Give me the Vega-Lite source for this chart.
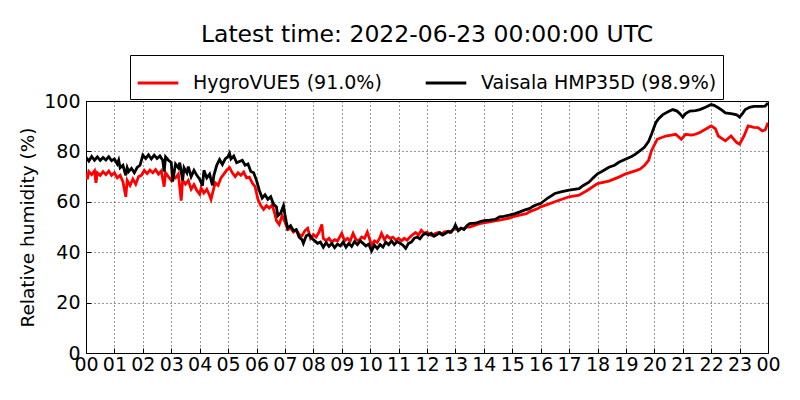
{
  "$schema": "https://vega.github.io/schema/vega-lite/v6.json",
  "width": 682,
  "height": 252,
  "autosize": {"type": "none"},
  "padding": {"left": 86, "top": 101, "right": 32, "bottom": 47},
  "background": "white",
  "title": {
    "text": "Latest time: 2022-06-23 00:00:00 UTC",
    "font": "DejaVu Sans",
    "fontSize": 23.5,
    "fontWeight": "normal",
    "color": "black",
    "anchor": "middle",
    "baseline": "alphabetic",
    "offset": -11
  },
  "config": {
    "view": {"stroke": "black", "strokeWidth": 1},
    "axis": {
      "labelFont": "DejaVu Sans",
      "labelFontSize": 19,
      "labelColor": "black",
      "titleFont": "DejaVu Sans",
      "titleFontSize": 18.5,
      "titleFontWeight": "normal",
      "titleColor": "black",
      "domain": false,
      "grid": true,
      "gridColor": "black",
      "gridOpacity": 0.8,
      "gridDash": [1, 3],
      "tickColor": "black",
      "tickSize": -5
    }
  },
  "datasets": {
    "rh": [
      {"t": 0.0, "rh": 71.6, "sensor": "HygroVUE5 (91.0%)"},
      {"t": 0.05, "rh": 69.0, "sensor": "HygroVUE5 (91.0%)"},
      {"t": 0.1, "rh": 72.0, "sensor": "HygroVUE5 (91.0%)"},
      {"t": 0.2, "rh": 70.8, "sensor": "HygroVUE5 (91.0%)"},
      {"t": 0.3, "rh": 72.3, "sensor": "HygroVUE5 (91.0%)"},
      {"t": 0.35, "rh": 67.5, "sensor": "HygroVUE5 (91.0%)"},
      {"t": 0.4, "rh": 71.5, "sensor": "HygroVUE5 (91.0%)"},
      {"t": 0.5, "rh": 70.5, "sensor": "HygroVUE5 (91.0%)"},
      {"t": 0.6, "rh": 72.0, "sensor": "HygroVUE5 (91.0%)"},
      {"t": 0.7, "rh": 70.8, "sensor": "HygroVUE5 (91.0%)"},
      {"t": 0.8, "rh": 72.2, "sensor": "HygroVUE5 (91.0%)"},
      {"t": 0.9, "rh": 70.5, "sensor": "HygroVUE5 (91.0%)"},
      {"t": 1.0, "rh": 71.5, "sensor": "HygroVUE5 (91.0%)"},
      {"t": 1.1, "rh": 69.5, "sensor": "HygroVUE5 (91.0%)"},
      {"t": 1.2, "rh": 70.5, "sensor": "HygroVUE5 (91.0%)"},
      {"t": 1.3, "rh": 68.0, "sensor": "HygroVUE5 (91.0%)"},
      {"t": 1.4, "rh": 62.0, "sensor": "HygroVUE5 (91.0%)"},
      {"t": 1.45, "rh": 68.5, "sensor": "HygroVUE5 (91.0%)"},
      {"t": 1.55, "rh": 66.5, "sensor": "HygroVUE5 (91.0%)"},
      {"t": 1.65, "rh": 69.0, "sensor": "HygroVUE5 (91.0%)"},
      {"t": 1.75, "rh": 67.0, "sensor": "HygroVUE5 (91.0%)"},
      {"t": 1.85, "rh": 70.0, "sensor": "HygroVUE5 (91.0%)"},
      {"t": 1.95, "rh": 70.5, "sensor": "HygroVUE5 (91.0%)"},
      {"t": 2.05, "rh": 72.5, "sensor": "HygroVUE5 (91.0%)"},
      {"t": 2.15, "rh": 71.2, "sensor": "HygroVUE5 (91.0%)"},
      {"t": 2.25, "rh": 72.6, "sensor": "HygroVUE5 (91.0%)"},
      {"t": 2.35, "rh": 71.5, "sensor": "HygroVUE5 (91.0%)"},
      {"t": 2.45, "rh": 72.8, "sensor": "HygroVUE5 (91.0%)"},
      {"t": 2.55, "rh": 71.0, "sensor": "HygroVUE5 (91.0%)"},
      {"t": 2.65, "rh": 72.3, "sensor": "HygroVUE5 (91.0%)"},
      {"t": 2.75, "rh": 66.0, "sensor": "HygroVUE5 (91.0%)"},
      {"t": 2.8, "rh": 71.5, "sensor": "HygroVUE5 (91.0%)"},
      {"t": 2.9, "rh": 70.0, "sensor": "HygroVUE5 (91.0%)"},
      {"t": 3.0, "rh": 68.5, "sensor": "HygroVUE5 (91.0%)"},
      {"t": 3.05, "rh": 70.5, "sensor": "HygroVUE5 (91.0%)"},
      {"t": 3.15, "rh": 69.5, "sensor": "HygroVUE5 (91.0%)"},
      {"t": 3.25, "rh": 71.0, "sensor": "HygroVUE5 (91.0%)"},
      {"t": 3.35, "rh": 60.5, "sensor": "HygroVUE5 (91.0%)"},
      {"t": 3.4, "rh": 68.5, "sensor": "HygroVUE5 (91.0%)"},
      {"t": 3.5, "rh": 67.0, "sensor": "HygroVUE5 (91.0%)"},
      {"t": 3.6, "rh": 68.5, "sensor": "HygroVUE5 (91.0%)"},
      {"t": 3.7, "rh": 65.0, "sensor": "HygroVUE5 (91.0%)"},
      {"t": 3.8, "rh": 66.8, "sensor": "HygroVUE5 (91.0%)"},
      {"t": 3.9, "rh": 64.5, "sensor": "HygroVUE5 (91.0%)"},
      {"t": 4.0, "rh": 63.0, "sensor": "HygroVUE5 (91.0%)"},
      {"t": 4.05, "rh": 65.5, "sensor": "HygroVUE5 (91.0%)"},
      {"t": 4.15, "rh": 63.5, "sensor": "HygroVUE5 (91.0%)"},
      {"t": 4.25, "rh": 65.0, "sensor": "HygroVUE5 (91.0%)"},
      {"t": 4.35, "rh": 62.5, "sensor": "HygroVUE5 (91.0%)"},
      {"t": 4.4, "rh": 61.0, "sensor": "HygroVUE5 (91.0%)"},
      {"t": 4.5, "rh": 65.5, "sensor": "HygroVUE5 (91.0%)"},
      {"t": 4.55, "rh": 67.5, "sensor": "HygroVUE5 (91.0%)"},
      {"t": 4.65, "rh": 66.5, "sensor": "HygroVUE5 (91.0%)"},
      {"t": 4.75, "rh": 69.5, "sensor": "HygroVUE5 (91.0%)"},
      {"t": 4.85, "rh": 71.0, "sensor": "HygroVUE5 (91.0%)"},
      {"t": 4.95, "rh": 72.5, "sensor": "HygroVUE5 (91.0%)"},
      {"t": 5.05, "rh": 73.6, "sensor": "HygroVUE5 (91.0%)"},
      {"t": 5.15, "rh": 71.5, "sensor": "HygroVUE5 (91.0%)"},
      {"t": 5.25, "rh": 70.0, "sensor": "HygroVUE5 (91.0%)"},
      {"t": 5.35, "rh": 71.5, "sensor": "HygroVUE5 (91.0%)"},
      {"t": 5.45, "rh": 70.5, "sensor": "HygroVUE5 (91.0%)"},
      {"t": 5.55, "rh": 71.8, "sensor": "HygroVUE5 (91.0%)"},
      {"t": 5.65, "rh": 69.5, "sensor": "HygroVUE5 (91.0%)"},
      {"t": 5.75, "rh": 69.8, "sensor": "HygroVUE5 (91.0%)"},
      {"t": 5.85, "rh": 67.5, "sensor": "HygroVUE5 (91.0%)"},
      {"t": 5.95, "rh": 66.0, "sensor": "HygroVUE5 (91.0%)"},
      {"t": 6.05, "rh": 61.0, "sensor": "HygroVUE5 (91.0%)"},
      {"t": 6.15, "rh": 58.5, "sensor": "HygroVUE5 (91.0%)"},
      {"t": 6.25, "rh": 57.0, "sensor": "HygroVUE5 (91.0%)"},
      {"t": 6.35, "rh": 58.5, "sensor": "HygroVUE5 (91.0%)"},
      {"t": 6.45, "rh": 57.5, "sensor": "HygroVUE5 (91.0%)"},
      {"t": 6.55, "rh": 58.8, "sensor": "HygroVUE5 (91.0%)"},
      {"t": 6.65, "rh": 55.0, "sensor": "HygroVUE5 (91.0%)"},
      {"t": 6.7, "rh": 52.5, "sensor": "HygroVUE5 (91.0%)"},
      {"t": 6.8, "rh": 51.0, "sensor": "HygroVUE5 (91.0%)"},
      {"t": 6.9, "rh": 54.5, "sensor": "HygroVUE5 (91.0%)"},
      {"t": 7.0, "rh": 52.0, "sensor": "HygroVUE5 (91.0%)"},
      {"t": 7.1, "rh": 49.0, "sensor": "HygroVUE5 (91.0%)"},
      {"t": 7.2, "rh": 49.5, "sensor": "HygroVUE5 (91.0%)"},
      {"t": 7.3, "rh": 48.0, "sensor": "HygroVUE5 (91.0%)"},
      {"t": 7.4, "rh": 48.8, "sensor": "HygroVUE5 (91.0%)"},
      {"t": 7.5, "rh": 47.0, "sensor": "HygroVUE5 (91.0%)"},
      {"t": 7.6, "rh": 46.5, "sensor": "HygroVUE5 (91.0%)"},
      {"t": 7.7, "rh": 48.5, "sensor": "HygroVUE5 (91.0%)"},
      {"t": 7.8, "rh": 49.5, "sensor": "HygroVUE5 (91.0%)"},
      {"t": 7.9, "rh": 45.5, "sensor": "HygroVUE5 (91.0%)"},
      {"t": 8.0, "rh": 47.0, "sensor": "HygroVUE5 (91.0%)"},
      {"t": 8.1, "rh": 46.0, "sensor": "HygroVUE5 (91.0%)"},
      {"t": 8.2, "rh": 48.0, "sensor": "HygroVUE5 (91.0%)"},
      {"t": 8.3, "rh": 51.0, "sensor": "HygroVUE5 (91.0%)"},
      {"t": 8.35, "rh": 45.5, "sensor": "HygroVUE5 (91.0%)"},
      {"t": 8.45, "rh": 44.5, "sensor": "HygroVUE5 (91.0%)"},
      {"t": 8.55, "rh": 45.5, "sensor": "HygroVUE5 (91.0%)"},
      {"t": 8.65, "rh": 44.0, "sensor": "HygroVUE5 (91.0%)"},
      {"t": 8.75, "rh": 45.0, "sensor": "HygroVUE5 (91.0%)"},
      {"t": 8.85, "rh": 44.5, "sensor": "HygroVUE5 (91.0%)"},
      {"t": 8.95, "rh": 46.5, "sensor": "HygroVUE5 (91.0%)"},
      {"t": 9.0, "rh": 47.5, "sensor": "HygroVUE5 (91.0%)"},
      {"t": 9.1, "rh": 44.5, "sensor": "HygroVUE5 (91.0%)"},
      {"t": 9.2, "rh": 45.5, "sensor": "HygroVUE5 (91.0%)"},
      {"t": 9.3, "rh": 44.5, "sensor": "HygroVUE5 (91.0%)"},
      {"t": 9.4, "rh": 47.5, "sensor": "HygroVUE5 (91.0%)"},
      {"t": 9.5, "rh": 45.0, "sensor": "HygroVUE5 (91.0%)"},
      {"t": 9.6, "rh": 44.5, "sensor": "HygroVUE5 (91.0%)"},
      {"t": 9.7, "rh": 46.0, "sensor": "HygroVUE5 (91.0%)"},
      {"t": 9.8, "rh": 45.5, "sensor": "HygroVUE5 (91.0%)"},
      {"t": 9.9, "rh": 48.0, "sensor": "HygroVUE5 (91.0%)"},
      {"t": 10.0, "rh": 44.5, "sensor": "HygroVUE5 (91.0%)"},
      {"t": 10.05, "rh": 42.8, "sensor": "HygroVUE5 (91.0%)"},
      {"t": 10.15, "rh": 44.5, "sensor": "HygroVUE5 (91.0%)"},
      {"t": 10.25, "rh": 43.8, "sensor": "HygroVUE5 (91.0%)"},
      {"t": 10.35, "rh": 46.0, "sensor": "HygroVUE5 (91.0%)"},
      {"t": 10.4, "rh": 47.5, "sensor": "HygroVUE5 (91.0%)"},
      {"t": 10.5, "rh": 45.0, "sensor": "HygroVUE5 (91.0%)"},
      {"t": 10.6, "rh": 46.5, "sensor": "HygroVUE5 (91.0%)"},
      {"t": 10.7, "rh": 45.5, "sensor": "HygroVUE5 (91.0%)"},
      {"t": 10.8, "rh": 46.0, "sensor": "HygroVUE5 (91.0%)"},
      {"t": 10.9, "rh": 44.8, "sensor": "HygroVUE5 (91.0%)"},
      {"t": 11.0, "rh": 45.5, "sensor": "HygroVUE5 (91.0%)"},
      {"t": 11.1, "rh": 44.5, "sensor": "HygroVUE5 (91.0%)"},
      {"t": 11.2, "rh": 45.5, "sensor": "HygroVUE5 (91.0%)"},
      {"t": 11.3, "rh": 44.8, "sensor": "HygroVUE5 (91.0%)"},
      {"t": 11.4, "rh": 46.0, "sensor": "HygroVUE5 (91.0%)"},
      {"t": 11.5, "rh": 47.0, "sensor": "HygroVUE5 (91.0%)"},
      {"t": 11.6, "rh": 47.8, "sensor": "HygroVUE5 (91.0%)"},
      {"t": 11.7, "rh": 46.8, "sensor": "HygroVUE5 (91.0%)"},
      {"t": 11.8, "rh": 48.7, "sensor": "HygroVUE5 (91.0%)"},
      {"t": 11.9, "rh": 47.5, "sensor": "HygroVUE5 (91.0%)"},
      {"t": 12.0, "rh": 48.0, "sensor": "HygroVUE5 (91.0%)"},
      {"t": 12.1, "rh": 47.0, "sensor": "HygroVUE5 (91.0%)"},
      {"t": 12.2, "rh": 46.5, "sensor": "HygroVUE5 (91.0%)"},
      {"t": 12.3, "rh": 47.5, "sensor": "HygroVUE5 (91.0%)"},
      {"t": 12.4, "rh": 47.8, "sensor": "HygroVUE5 (91.0%)"},
      {"t": 12.5, "rh": 47.0, "sensor": "HygroVUE5 (91.0%)"},
      {"t": 12.6, "rh": 48.0, "sensor": "HygroVUE5 (91.0%)"},
      {"t": 12.7, "rh": 48.2, "sensor": "HygroVUE5 (91.0%)"},
      {"t": 12.8, "rh": 47.8, "sensor": "HygroVUE5 (91.0%)"},
      {"t": 12.9, "rh": 48.8, "sensor": "HygroVUE5 (91.0%)"},
      {"t": 13.0, "rh": 49.5, "sensor": "HygroVUE5 (91.0%)"},
      {"t": 13.1, "rh": 48.8, "sensor": "HygroVUE5 (91.0%)"},
      {"t": 13.2, "rh": 49.5, "sensor": "HygroVUE5 (91.0%)"},
      {"t": 13.3, "rh": 49.3, "sensor": "HygroVUE5 (91.0%)"},
      {"t": 13.4, "rh": 50.0, "sensor": "HygroVUE5 (91.0%)"},
      {"t": 13.5, "rh": 50.0, "sensor": "HygroVUE5 (91.0%)"},
      {"t": 13.85, "rh": 51.3, "sensor": "HygroVUE5 (91.0%)"},
      {"t": 14.2, "rh": 52.0, "sensor": "HygroVUE5 (91.0%)"},
      {"t": 14.55, "rh": 52.7, "sensor": "HygroVUE5 (91.0%)"},
      {"t": 14.9, "rh": 53.5, "sensor": "HygroVUE5 (91.0%)"},
      {"t": 15.0, "rh": 54.0, "sensor": "HygroVUE5 (91.0%)"},
      {"t": 15.3, "rh": 54.8, "sensor": "HygroVUE5 (91.0%)"},
      {"t": 15.5, "rh": 55.3, "sensor": "HygroVUE5 (91.0%)"},
      {"t": 15.6, "rh": 56.0, "sensor": "HygroVUE5 (91.0%)"},
      {"t": 15.9, "rh": 57.3, "sensor": "HygroVUE5 (91.0%)"},
      {"t": 16.0, "rh": 58.0, "sensor": "HygroVUE5 (91.0%)"},
      {"t": 16.25, "rh": 59.0, "sensor": "HygroVUE5 (91.0%)"},
      {"t": 16.5, "rh": 60.0, "sensor": "HygroVUE5 (91.0%)"},
      {"t": 16.75, "rh": 61.0, "sensor": "HygroVUE5 (91.0%)"},
      {"t": 17.0, "rh": 62.0, "sensor": "HygroVUE5 (91.0%)"},
      {"t": 17.35, "rh": 62.6, "sensor": "HygroVUE5 (91.0%)"},
      {"t": 17.65, "rh": 64.6, "sensor": "HygroVUE5 (91.0%)"},
      {"t": 18.0, "rh": 67.2, "sensor": "HygroVUE5 (91.0%)"},
      {"t": 18.4, "rh": 68.2, "sensor": "HygroVUE5 (91.0%)"},
      {"t": 18.75, "rh": 69.8, "sensor": "HygroVUE5 (91.0%)"},
      {"t": 19.0, "rh": 71.1, "sensor": "HygroVUE5 (91.0%)"},
      {"t": 19.35, "rh": 72.4, "sensor": "HygroVUE5 (91.0%)"},
      {"t": 19.5, "rh": 73.0, "sensor": "HygroVUE5 (91.0%)"},
      {"t": 19.65, "rh": 74.4, "sensor": "HygroVUE5 (91.0%)"},
      {"t": 19.8, "rh": 76.5, "sensor": "HygroVUE5 (91.0%)"},
      {"t": 19.9, "rh": 80.3, "sensor": "HygroVUE5 (91.0%)"},
      {"t": 20.1, "rh": 84.8, "sensor": "HygroVUE5 (91.0%)"},
      {"t": 20.4, "rh": 86.1, "sensor": "HygroVUE5 (91.0%)"},
      {"t": 20.6, "rh": 86.5, "sensor": "HygroVUE5 (91.0%)"},
      {"t": 20.75, "rh": 86.8, "sensor": "HygroVUE5 (91.0%)"},
      {"t": 20.95, "rh": 84.8, "sensor": "HygroVUE5 (91.0%)"},
      {"t": 21.1, "rh": 86.8, "sensor": "HygroVUE5 (91.0%)"},
      {"t": 21.3, "rh": 86.5, "sensor": "HygroVUE5 (91.0%)"},
      {"t": 21.45, "rh": 86.8, "sensor": "HygroVUE5 (91.0%)"},
      {"t": 21.6, "rh": 87.5, "sensor": "HygroVUE5 (91.0%)"},
      {"t": 21.8, "rh": 88.8, "sensor": "HygroVUE5 (91.0%)"},
      {"t": 22.0, "rh": 90.1, "sensor": "HygroVUE5 (91.0%)"},
      {"t": 22.15, "rh": 89.0, "sensor": "HygroVUE5 (91.0%)"},
      {"t": 22.25, "rh": 86.1, "sensor": "HygroVUE5 (91.0%)"},
      {"t": 22.5, "rh": 84.2, "sensor": "HygroVUE5 (91.0%)"},
      {"t": 22.7, "rh": 86.1, "sensor": "HygroVUE5 (91.0%)"},
      {"t": 22.9, "rh": 83.5, "sensor": "HygroVUE5 (91.0%)"},
      {"t": 23.0, "rh": 82.9, "sensor": "HygroVUE5 (91.0%)"},
      {"t": 23.15, "rh": 86.0, "sensor": "HygroVUE5 (91.0%)"},
      {"t": 23.3, "rh": 90.1, "sensor": "HygroVUE5 (91.0%)"},
      {"t": 23.5, "rh": 89.5, "sensor": "HygroVUE5 (91.0%)"},
      {"t": 23.65, "rh": 89.4, "sensor": "HygroVUE5 (91.0%)"},
      {"t": 23.8, "rh": 88.1, "sensor": "HygroVUE5 (91.0%)"},
      {"t": 23.9, "rh": 88.5, "sensor": "HygroVUE5 (91.0%)"},
      {"t": 24.0, "rh": 91.4, "sensor": "HygroVUE5 (91.0%)"},
      {"t": 0.0, "rh": 77.6, "sensor": "Vaisala HMP35D (98.9%)"},
      {"t": 0.1, "rh": 76.2, "sensor": "Vaisala HMP35D (98.9%)"},
      {"t": 0.2, "rh": 78.0, "sensor": "Vaisala HMP35D (98.9%)"},
      {"t": 0.3, "rh": 76.5, "sensor": "Vaisala HMP35D (98.9%)"},
      {"t": 0.4, "rh": 77.8, "sensor": "Vaisala HMP35D (98.9%)"},
      {"t": 0.5, "rh": 76.4, "sensor": "Vaisala HMP35D (98.9%)"},
      {"t": 0.6, "rh": 77.6, "sensor": "Vaisala HMP35D (98.9%)"},
      {"t": 0.7, "rh": 76.6, "sensor": "Vaisala HMP35D (98.9%)"},
      {"t": 0.8, "rh": 77.9, "sensor": "Vaisala HMP35D (98.9%)"},
      {"t": 0.9, "rh": 76.3, "sensor": "Vaisala HMP35D (98.9%)"},
      {"t": 1.0, "rh": 77.0, "sensor": "Vaisala HMP35D (98.9%)"},
      {"t": 1.1, "rh": 75.0, "sensor": "Vaisala HMP35D (98.9%)"},
      {"t": 1.15, "rh": 76.5, "sensor": "Vaisala HMP35D (98.9%)"},
      {"t": 1.2, "rh": 73.5, "sensor": "Vaisala HMP35D (98.9%)"},
      {"t": 1.3, "rh": 74.5, "sensor": "Vaisala HMP35D (98.9%)"},
      {"t": 1.4, "rh": 70.5, "sensor": "Vaisala HMP35D (98.9%)"},
      {"t": 1.45, "rh": 73.5, "sensor": "Vaisala HMP35D (98.9%)"},
      {"t": 1.5, "rh": 72.0, "sensor": "Vaisala HMP35D (98.9%)"},
      {"t": 1.6, "rh": 73.3, "sensor": "Vaisala HMP35D (98.9%)"},
      {"t": 1.7, "rh": 71.5, "sensor": "Vaisala HMP35D (98.9%)"},
      {"t": 1.8, "rh": 73.6, "sensor": "Vaisala HMP35D (98.9%)"},
      {"t": 1.9, "rh": 74.5, "sensor": "Vaisala HMP35D (98.9%)"},
      {"t": 2.0, "rh": 78.5, "sensor": "Vaisala HMP35D (98.9%)"},
      {"t": 2.1, "rh": 77.2, "sensor": "Vaisala HMP35D (98.9%)"},
      {"t": 2.2, "rh": 78.6, "sensor": "Vaisala HMP35D (98.9%)"},
      {"t": 2.3, "rh": 77.0, "sensor": "Vaisala HMP35D (98.9%)"},
      {"t": 2.4, "rh": 78.5, "sensor": "Vaisala HMP35D (98.9%)"},
      {"t": 2.5, "rh": 77.2, "sensor": "Vaisala HMP35D (98.9%)"},
      {"t": 2.6, "rh": 78.2, "sensor": "Vaisala HMP35D (98.9%)"},
      {"t": 2.7, "rh": 76.5, "sensor": "Vaisala HMP35D (98.9%)"},
      {"t": 2.75, "rh": 72.0, "sensor": "Vaisala HMP35D (98.9%)"},
      {"t": 2.8, "rh": 77.8, "sensor": "Vaisala HMP35D (98.9%)"},
      {"t": 2.9, "rh": 76.5, "sensor": "Vaisala HMP35D (98.9%)"},
      {"t": 3.0, "rh": 75.6, "sensor": "Vaisala HMP35D (98.9%)"},
      {"t": 3.05, "rh": 68.0, "sensor": "Vaisala HMP35D (98.9%)"},
      {"t": 3.15, "rh": 75.0, "sensor": "Vaisala HMP35D (98.9%)"},
      {"t": 3.25, "rh": 73.5, "sensor": "Vaisala HMP35D (98.9%)"},
      {"t": 3.3, "rh": 75.5, "sensor": "Vaisala HMP35D (98.9%)"},
      {"t": 3.4, "rh": 68.5, "sensor": "Vaisala HMP35D (98.9%)"},
      {"t": 3.45, "rh": 73.5, "sensor": "Vaisala HMP35D (98.9%)"},
      {"t": 3.55, "rh": 71.5, "sensor": "Vaisala HMP35D (98.9%)"},
      {"t": 3.6, "rh": 74.0, "sensor": "Vaisala HMP35D (98.9%)"},
      {"t": 3.7, "rh": 70.0, "sensor": "Vaisala HMP35D (98.9%)"},
      {"t": 3.8, "rh": 72.5, "sensor": "Vaisala HMP35D (98.9%)"},
      {"t": 3.9, "rh": 70.5, "sensor": "Vaisala HMP35D (98.9%)"},
      {"t": 4.0, "rh": 69.0, "sensor": "Vaisala HMP35D (98.9%)"},
      {"t": 4.1, "rh": 66.4, "sensor": "Vaisala HMP35D (98.9%)"},
      {"t": 4.15, "rh": 72.5, "sensor": "Vaisala HMP35D (98.9%)"},
      {"t": 4.25, "rh": 69.5, "sensor": "Vaisala HMP35D (98.9%)"},
      {"t": 4.35, "rh": 71.0, "sensor": "Vaisala HMP35D (98.9%)"},
      {"t": 4.45, "rh": 66.5, "sensor": "Vaisala HMP35D (98.9%)"},
      {"t": 4.5, "rh": 70.5, "sensor": "Vaisala HMP35D (98.9%)"},
      {"t": 4.6, "rh": 74.5, "sensor": "Vaisala HMP35D (98.9%)"},
      {"t": 4.7, "rh": 76.8, "sensor": "Vaisala HMP35D (98.9%)"},
      {"t": 4.8, "rh": 74.8, "sensor": "Vaisala HMP35D (98.9%)"},
      {"t": 4.9, "rh": 77.0, "sensor": "Vaisala HMP35D (98.9%)"},
      {"t": 5.0, "rh": 78.0, "sensor": "Vaisala HMP35D (98.9%)"},
      {"t": 5.05, "rh": 79.2, "sensor": "Vaisala HMP35D (98.9%)"},
      {"t": 5.1, "rh": 77.0, "sensor": "Vaisala HMP35D (98.9%)"},
      {"t": 5.2, "rh": 78.2, "sensor": "Vaisala HMP35D (98.9%)"},
      {"t": 5.3, "rh": 75.5, "sensor": "Vaisala HMP35D (98.9%)"},
      {"t": 5.4, "rh": 76.0, "sensor": "Vaisala HMP35D (98.9%)"},
      {"t": 5.5, "rh": 76.5, "sensor": "Vaisala HMP35D (98.9%)"},
      {"t": 5.6, "rh": 74.5, "sensor": "Vaisala HMP35D (98.9%)"},
      {"t": 5.7, "rh": 75.0, "sensor": "Vaisala HMP35D (98.9%)"},
      {"t": 5.8, "rh": 72.0, "sensor": "Vaisala HMP35D (98.9%)"},
      {"t": 5.9, "rh": 71.5, "sensor": "Vaisala HMP35D (98.9%)"},
      {"t": 6.0, "rh": 68.5, "sensor": "Vaisala HMP35D (98.9%)"},
      {"t": 6.1, "rh": 64.5, "sensor": "Vaisala HMP35D (98.9%)"},
      {"t": 6.2, "rh": 61.5, "sensor": "Vaisala HMP35D (98.9%)"},
      {"t": 6.3, "rh": 62.8, "sensor": "Vaisala HMP35D (98.9%)"},
      {"t": 6.4, "rh": 61.0, "sensor": "Vaisala HMP35D (98.9%)"},
      {"t": 6.5, "rh": 62.0, "sensor": "Vaisala HMP35D (98.9%)"},
      {"t": 6.6, "rh": 59.0, "sensor": "Vaisala HMP35D (98.9%)"},
      {"t": 6.7, "rh": 58.0, "sensor": "Vaisala HMP35D (98.9%)"},
      {"t": 6.75, "rh": 54.5, "sensor": "Vaisala HMP35D (98.9%)"},
      {"t": 6.85, "rh": 55.5, "sensor": "Vaisala HMP35D (98.9%)"},
      {"t": 6.95, "rh": 58.5, "sensor": "Vaisala HMP35D (98.9%)"},
      {"t": 7.0, "rh": 55.0, "sensor": "Vaisala HMP35D (98.9%)"},
      {"t": 7.05, "rh": 52.0, "sensor": "Vaisala HMP35D (98.9%)"},
      {"t": 7.1, "rh": 49.5, "sensor": "Vaisala HMP35D (98.9%)"},
      {"t": 7.2, "rh": 50.5, "sensor": "Vaisala HMP35D (98.9%)"},
      {"t": 7.3, "rh": 48.5, "sensor": "Vaisala HMP35D (98.9%)"},
      {"t": 7.4, "rh": 49.0, "sensor": "Vaisala HMP35D (98.9%)"},
      {"t": 7.5, "rh": 46.0, "sensor": "Vaisala HMP35D (98.9%)"},
      {"t": 7.6, "rh": 45.0, "sensor": "Vaisala HMP35D (98.9%)"},
      {"t": 7.65, "rh": 43.5, "sensor": "Vaisala HMP35D (98.9%)"},
      {"t": 7.75, "rh": 46.5, "sensor": "Vaisala HMP35D (98.9%)"},
      {"t": 7.85, "rh": 47.0, "sensor": "Vaisala HMP35D (98.9%)"},
      {"t": 7.95, "rh": 45.5, "sensor": "Vaisala HMP35D (98.9%)"},
      {"t": 8.05, "rh": 44.5, "sensor": "Vaisala HMP35D (98.9%)"},
      {"t": 8.15, "rh": 43.5, "sensor": "Vaisala HMP35D (98.9%)"},
      {"t": 8.25, "rh": 44.0, "sensor": "Vaisala HMP35D (98.9%)"},
      {"t": 8.35, "rh": 42.0, "sensor": "Vaisala HMP35D (98.9%)"},
      {"t": 8.45, "rh": 43.8, "sensor": "Vaisala HMP35D (98.9%)"},
      {"t": 8.55, "rh": 42.3, "sensor": "Vaisala HMP35D (98.9%)"},
      {"t": 8.65, "rh": 43.5, "sensor": "Vaisala HMP35D (98.9%)"},
      {"t": 8.75, "rh": 41.8, "sensor": "Vaisala HMP35D (98.9%)"},
      {"t": 8.85, "rh": 43.2, "sensor": "Vaisala HMP35D (98.9%)"},
      {"t": 8.95, "rh": 42.5, "sensor": "Vaisala HMP35D (98.9%)"},
      {"t": 9.05, "rh": 44.0, "sensor": "Vaisala HMP35D (98.9%)"},
      {"t": 9.15, "rh": 42.0, "sensor": "Vaisala HMP35D (98.9%)"},
      {"t": 9.25, "rh": 43.5, "sensor": "Vaisala HMP35D (98.9%)"},
      {"t": 9.35, "rh": 42.3, "sensor": "Vaisala HMP35D (98.9%)"},
      {"t": 9.45, "rh": 44.2, "sensor": "Vaisala HMP35D (98.9%)"},
      {"t": 9.55, "rh": 43.0, "sensor": "Vaisala HMP35D (98.9%)"},
      {"t": 9.65, "rh": 44.5, "sensor": "Vaisala HMP35D (98.9%)"},
      {"t": 9.75, "rh": 43.5, "sensor": "Vaisala HMP35D (98.9%)"},
      {"t": 9.85, "rh": 42.5, "sensor": "Vaisala HMP35D (98.9%)"},
      {"t": 9.95, "rh": 43.2, "sensor": "Vaisala HMP35D (98.9%)"},
      {"t": 10.05, "rh": 40.5, "sensor": "Vaisala HMP35D (98.9%)"},
      {"t": 10.15, "rh": 42.8, "sensor": "Vaisala HMP35D (98.9%)"},
      {"t": 10.25, "rh": 41.5, "sensor": "Vaisala HMP35D (98.9%)"},
      {"t": 10.35, "rh": 43.0, "sensor": "Vaisala HMP35D (98.9%)"},
      {"t": 10.45, "rh": 42.0, "sensor": "Vaisala HMP35D (98.9%)"},
      {"t": 10.55, "rh": 44.0, "sensor": "Vaisala HMP35D (98.9%)"},
      {"t": 10.65, "rh": 43.0, "sensor": "Vaisala HMP35D (98.9%)"},
      {"t": 10.75, "rh": 44.5, "sensor": "Vaisala HMP35D (98.9%)"},
      {"t": 10.85, "rh": 43.0, "sensor": "Vaisala HMP35D (98.9%)"},
      {"t": 10.95, "rh": 44.2, "sensor": "Vaisala HMP35D (98.9%)"},
      {"t": 11.05, "rh": 43.5, "sensor": "Vaisala HMP35D (98.9%)"},
      {"t": 11.15, "rh": 42.8, "sensor": "Vaisala HMP35D (98.9%)"},
      {"t": 11.25, "rh": 41.5, "sensor": "Vaisala HMP35D (98.9%)"},
      {"t": 11.35, "rh": 43.5, "sensor": "Vaisala HMP35D (98.9%)"},
      {"t": 11.45, "rh": 44.0, "sensor": "Vaisala HMP35D (98.9%)"},
      {"t": 11.55, "rh": 45.5, "sensor": "Vaisala HMP35D (98.9%)"},
      {"t": 11.65, "rh": 46.0, "sensor": "Vaisala HMP35D (98.9%)"},
      {"t": 11.75, "rh": 45.3, "sensor": "Vaisala HMP35D (98.9%)"},
      {"t": 11.85, "rh": 46.8, "sensor": "Vaisala HMP35D (98.9%)"},
      {"t": 11.95, "rh": 47.5, "sensor": "Vaisala HMP35D (98.9%)"},
      {"t": 12.05, "rh": 46.8, "sensor": "Vaisala HMP35D (98.9%)"},
      {"t": 12.15, "rh": 47.5, "sensor": "Vaisala HMP35D (98.9%)"},
      {"t": 12.25, "rh": 46.3, "sensor": "Vaisala HMP35D (98.9%)"},
      {"t": 12.35, "rh": 47.0, "sensor": "Vaisala HMP35D (98.9%)"},
      {"t": 12.45, "rh": 47.8, "sensor": "Vaisala HMP35D (98.9%)"},
      {"t": 12.55, "rh": 46.8, "sensor": "Vaisala HMP35D (98.9%)"},
      {"t": 12.65, "rh": 47.5, "sensor": "Vaisala HMP35D (98.9%)"},
      {"t": 12.75, "rh": 48.3, "sensor": "Vaisala HMP35D (98.9%)"},
      {"t": 12.85, "rh": 48.0, "sensor": "Vaisala HMP35D (98.9%)"},
      {"t": 12.95, "rh": 49.5, "sensor": "Vaisala HMP35D (98.9%)"},
      {"t": 13.0, "rh": 50.8, "sensor": "Vaisala HMP35D (98.9%)"},
      {"t": 13.1, "rh": 48.5, "sensor": "Vaisala HMP35D (98.9%)"},
      {"t": 13.2, "rh": 49.5, "sensor": "Vaisala HMP35D (98.9%)"},
      {"t": 13.3, "rh": 49.0, "sensor": "Vaisala HMP35D (98.9%)"},
      {"t": 13.4, "rh": 50.5, "sensor": "Vaisala HMP35D (98.9%)"},
      {"t": 13.5, "rh": 51.3, "sensor": "Vaisala HMP35D (98.9%)"},
      {"t": 13.7, "rh": 51.5, "sensor": "Vaisala HMP35D (98.9%)"},
      {"t": 13.85, "rh": 52.0, "sensor": "Vaisala HMP35D (98.9%)"},
      {"t": 14.0, "rh": 52.5, "sensor": "Vaisala HMP35D (98.9%)"},
      {"t": 14.2, "rh": 52.7, "sensor": "Vaisala HMP35D (98.9%)"},
      {"t": 14.4, "rh": 53.0, "sensor": "Vaisala HMP35D (98.9%)"},
      {"t": 14.55, "rh": 54.0, "sensor": "Vaisala HMP35D (98.9%)"},
      {"t": 14.7, "rh": 54.2, "sensor": "Vaisala HMP35D (98.9%)"},
      {"t": 14.9, "rh": 54.7, "sensor": "Vaisala HMP35D (98.9%)"},
      {"t": 15.1, "rh": 55.3, "sensor": "Vaisala HMP35D (98.9%)"},
      {"t": 15.27, "rh": 56.0, "sensor": "Vaisala HMP35D (98.9%)"},
      {"t": 15.45, "rh": 56.8, "sensor": "Vaisala HMP35D (98.9%)"},
      {"t": 15.6, "rh": 57.3, "sensor": "Vaisala HMP35D (98.9%)"},
      {"t": 15.75, "rh": 58.3, "sensor": "Vaisala HMP35D (98.9%)"},
      {"t": 15.9, "rh": 59.0, "sensor": "Vaisala HMP35D (98.9%)"},
      {"t": 16.0, "rh": 59.3, "sensor": "Vaisala HMP35D (98.9%)"},
      {"t": 16.25, "rh": 61.5, "sensor": "Vaisala HMP35D (98.9%)"},
      {"t": 16.5, "rh": 63.3, "sensor": "Vaisala HMP35D (98.9%)"},
      {"t": 16.75, "rh": 64.0, "sensor": "Vaisala HMP35D (98.9%)"},
      {"t": 17.0, "rh": 64.6, "sensor": "Vaisala HMP35D (98.9%)"},
      {"t": 17.35, "rh": 65.2, "sensor": "Vaisala HMP35D (98.9%)"},
      {"t": 17.5, "rh": 66.5, "sensor": "Vaisala HMP35D (98.9%)"},
      {"t": 17.7, "rh": 67.8, "sensor": "Vaisala HMP35D (98.9%)"},
      {"t": 17.85, "rh": 69.5, "sensor": "Vaisala HMP35D (98.9%)"},
      {"t": 18.0, "rh": 71.1, "sensor": "Vaisala HMP35D (98.9%)"},
      {"t": 18.2, "rh": 72.3, "sensor": "Vaisala HMP35D (98.9%)"},
      {"t": 18.4, "rh": 73.7, "sensor": "Vaisala HMP35D (98.9%)"},
      {"t": 18.6, "rh": 74.5, "sensor": "Vaisala HMP35D (98.9%)"},
      {"t": 18.75, "rh": 75.7, "sensor": "Vaisala HMP35D (98.9%)"},
      {"t": 19.0, "rh": 77.0, "sensor": "Vaisala HMP35D (98.9%)"},
      {"t": 19.2, "rh": 78.0, "sensor": "Vaisala HMP35D (98.9%)"},
      {"t": 19.35, "rh": 79.0, "sensor": "Vaisala HMP35D (98.9%)"},
      {"t": 19.5, "rh": 80.3, "sensor": "Vaisala HMP35D (98.9%)"},
      {"t": 19.65, "rh": 81.6, "sensor": "Vaisala HMP35D (98.9%)"},
      {"t": 19.8, "rh": 84.0, "sensor": "Vaisala HMP35D (98.9%)"},
      {"t": 19.9, "rh": 86.8, "sensor": "Vaisala HMP35D (98.9%)"},
      {"t": 20.05, "rh": 91.4, "sensor": "Vaisala HMP35D (98.9%)"},
      {"t": 20.15, "rh": 93.0, "sensor": "Vaisala HMP35D (98.9%)"},
      {"t": 20.3, "rh": 94.6, "sensor": "Vaisala HMP35D (98.9%)"},
      {"t": 20.5, "rh": 95.8, "sensor": "Vaisala HMP35D (98.9%)"},
      {"t": 20.65, "rh": 96.6, "sensor": "Vaisala HMP35D (98.9%)"},
      {"t": 20.8, "rh": 96.0, "sensor": "Vaisala HMP35D (98.9%)"},
      {"t": 20.9, "rh": 95.0, "sensor": "Vaisala HMP35D (98.9%)"},
      {"t": 21.0, "rh": 93.6, "sensor": "Vaisala HMP35D (98.9%)"},
      {"t": 21.1, "rh": 95.0, "sensor": "Vaisala HMP35D (98.9%)"},
      {"t": 21.25, "rh": 96.0, "sensor": "Vaisala HMP35D (98.9%)"},
      {"t": 21.45, "rh": 96.2, "sensor": "Vaisala HMP35D (98.9%)"},
      {"t": 21.6, "rh": 96.6, "sensor": "Vaisala HMP35D (98.9%)"},
      {"t": 21.8, "rh": 97.5, "sensor": "Vaisala HMP35D (98.9%)"},
      {"t": 22.0, "rh": 98.6, "sensor": "Vaisala HMP35D (98.9%)"},
      {"t": 22.1, "rh": 98.3, "sensor": "Vaisala HMP35D (98.9%)"},
      {"t": 22.25, "rh": 97.3, "sensor": "Vaisala HMP35D (98.9%)"},
      {"t": 22.4, "rh": 96.2, "sensor": "Vaisala HMP35D (98.9%)"},
      {"t": 22.5, "rh": 95.3, "sensor": "Vaisala HMP35D (98.9%)"},
      {"t": 22.75, "rh": 94.9, "sensor": "Vaisala HMP35D (98.9%)"},
      {"t": 22.9, "rh": 94.5, "sensor": "Vaisala HMP35D (98.9%)"},
      {"t": 23.0, "rh": 93.6, "sensor": "Vaisala HMP35D (98.9%)"},
      {"t": 23.1, "rh": 95.0, "sensor": "Vaisala HMP35D (98.9%)"},
      {"t": 23.2, "rh": 96.6, "sensor": "Vaisala HMP35D (98.9%)"},
      {"t": 23.35, "rh": 97.5, "sensor": "Vaisala HMP35D (98.9%)"},
      {"t": 23.5, "rh": 97.9, "sensor": "Vaisala HMP35D (98.9%)"},
      {"t": 23.8, "rh": 97.9, "sensor": "Vaisala HMP35D (98.9%)"},
      {"t": 23.9, "rh": 98.0, "sensor": "Vaisala HMP35D (98.9%)"},
      {"t": 24.0, "rh": 99.2, "sensor": "Vaisala HMP35D (98.9%)"}
    ]
  },
  "data": {"name": "rh"},
  "mark": {"type": "line", "strokeWidth": 2.8, "clip": true},
  "encoding": {
    "x": {
      "field": "t",
      "type": "quantitative",
      "title": null,
      "scale": {"domain": [0, 24], "nice": false, "zero": false},
      "axis": {
        "values": [0, 1, 2, 3, 4, 5, 6, 7, 8, 9, 10, 11, 12, 13, 14, 15, 16, 17, 18, 19, 20, 21, 22, 23, 24],
        "labelExpr": "format(datum.value % 24, '02d')",
        "labelPadding": 7,
        "labelFlush": false,
        "labelOverlap": false
      }
    },
    "y": {
      "field": "rh",
      "type": "quantitative",
      "title": "Relative humidity (%)",
      "scale": {"domain": [0, 100], "nice": false},
      "axis": {
        "values": [0, 20, 40, 60, 80, 100],
        "labelPadding": 11,
        "titlePadding": 6
      }
    },
    "color": {
      "field": "sensor",
      "type": "nominal",
      "scale": {
        "domain": ["HygroVUE5 (91.0%)", "Vaisala HMP35D (98.9%)"],
        "range": ["#ff0000", "#000000"]
      },
      "legend": {
        "title": null,
        "orient": "none",
        "legendX": 44,
        "legendY": -46,
        "direction": "horizontal",
        "columns": 2,
        "strokeColor": "black",
        "fillColor": "white",
        "padding": 6,
        "symbolType": "stroke",
        "symbolSize": 1650,
        "symbolStrokeWidth": 3,
        "labelFont": "DejaVu Sans",
        "labelFontSize": 19,
        "labelColor": "black",
        "labelLimit": 400,
        "labelOffset": 13,
        "columnPadding": 37
      }
    }
  }
}
